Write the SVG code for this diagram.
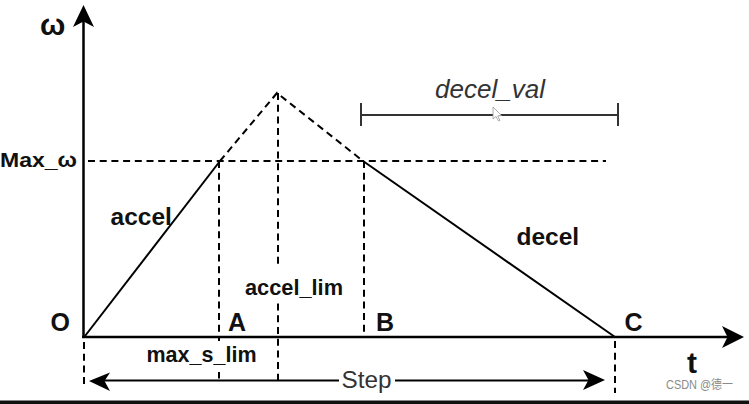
<svg xmlns="http://www.w3.org/2000/svg" width="749" height="404" viewBox="0 0 749 404">
  <style>
    .axis { stroke: #000; stroke-width: 2.5; fill: none; }
    .solid { stroke: #000; stroke-width: 2; fill: none; }
    .dash { stroke: #000; stroke-width: 2; fill: none; stroke-dasharray: 7 4.7; }
    .gray { stroke: #333; stroke-width: 2; fill: none; }
    .head { fill: #000; stroke: none; }
    .lbl { font-family: "Liberation Sans", Arial, sans-serif; font-weight: bold; fill: #111; }
    .reg { font-family: "Liberation Sans", Arial, sans-serif; fill: #333; }
    .bg { fill: #fff; stroke: none; }
  </style>
  <rect width="749" height="404" fill="#fff"/>

  <g id="guides">
    <line class="dash" x1="88" y1="161" x2="606" y2="161"/>
    <polyline class="dash" points="220,161 277,93 363,161"/>
    <line class="dash" x1="219" y1="161" x2="219" y2="381"/>
    <line class="dash" x1="278" y1="93" x2="278" y2="381"/>
    <line class="dash" x1="364" y1="161" x2="364" y2="337"/>
    <line class="dash" x1="615" y1="341" x2="615" y2="393"/>
    <line class="dash" x1="84" y1="342" x2="84" y2="388"/>
  </g>

  <g id="axes">
    <line class="axis" x1="83.5" y1="338" x2="83.5" y2="20"/>
    <path class="head" d="M83.5,5 L94,27 L83.5,21.5 L73,27 Z"/>
    <line class="axis" x1="82" y1="337" x2="730" y2="337"/>
    <path class="head" d="M744,337 L722,348 L727.5,337 L722,326 Z"/>
  </g>

  <g id="connectors">
    <line id="accel-line" class="solid" x1="85" y1="336" x2="220" y2="161"/>
    <line id="decel-line" class="solid" x1="363" y1="161" x2="615" y2="337"/>
    <g id="step-arrow">
      <line class="solid" x1="100" y1="380.5" x2="594" y2="380.5"/>
      <path class="head" d="M89,381 L110,372.5 L104.5,381 L110,391 Z"/>
      <path class="head" d="M605,380 L583,370 L588.5,380 L583,390 Z"/>
    </g>
    <g id="decel-val-bracket">
      <line class="gray" x1="361" y1="115" x2="618" y2="115"/>
      <line class="gray" x1="361" y1="103" x2="361" y2="126"/>
      <line class="gray" x1="618" y1="103" x2="618" y2="126"/>
    </g>
  </g>

  <g id="label-omega"><text class="lbl" x="40" y="35" font-size="30">ω</text></g>
  <g id="label-max-omega"><text class="lbl" x="0" y="167" font-size="21" textLength="77" lengthAdjust="spacingAndGlyphs">Max_ω</text></g>
  <g id="label-accel"><text class="lbl" x="110.5" y="225" font-size="24.5">accel</text></g>
  <g id="label-decel"><text class="lbl" x="516.5" y="245" font-size="24.5">decel</text></g>
  <g id="label-accel-lim">
    <rect class="bg" x="243" y="267" width="103" height="34"/>
    <text class="lbl" x="245" y="295" font-size="22" textLength="98" lengthAdjust="spacingAndGlyphs">accel_lim</text>
  </g>
  <g id="label-max-s-lim">
    <rect class="bg" x="142" y="341" width="118" height="31"/>
    <text class="lbl" x="146.5" y="362" font-size="21.5" textLength="110" lengthAdjust="spacingAndGlyphs">max_s_lim</text>
  </g>
  <g id="label-step">
    <rect class="bg" x="339" y="368" width="56" height="24"/>
    <text class="reg" x="341.5" y="388" font-size="23.5" textLength="50" lengthAdjust="spacingAndGlyphs">Step</text>
  </g>
  <g id="label-decel-val"><text class="reg" x="435" y="98" font-size="25.5" font-style="italic" textLength="110" lengthAdjust="spacingAndGlyphs">decel_val</text></g>
  <g id="point-O"><text class="lbl" x="50.5" y="331" font-size="25">O</text></g>
  <g id="point-A"><text class="lbl" x="228" y="331" font-size="25">A</text></g>
  <g id="point-B"><text class="lbl" x="376" y="331" font-size="25">B</text></g>
  <g id="point-C"><text class="lbl" x="624.5" y="331" font-size="25">C</text></g>
  <g id="label-t"><text class="lbl" x="687" y="373" font-size="30">t</text></g>
  <g id="watermark"><text x="666" y="389" font-size="12.5" fill="#8a8a8a" font-family="'Liberation Sans', 'Noto Sans CJK SC', sans-serif" textLength="67" lengthAdjust="spacingAndGlyphs">CSDN @德一</text></g>

  <path d="M493,107 L493,119 L496,116.5 L498.5,121 L500,120.3 L497.6,116 L501.5,115.5 Z" fill="#fff" stroke="#999" stroke-width="0.8"/>

  <rect x="0" y="400.5" width="749" height="3.5" fill="#111"/>
</svg>
